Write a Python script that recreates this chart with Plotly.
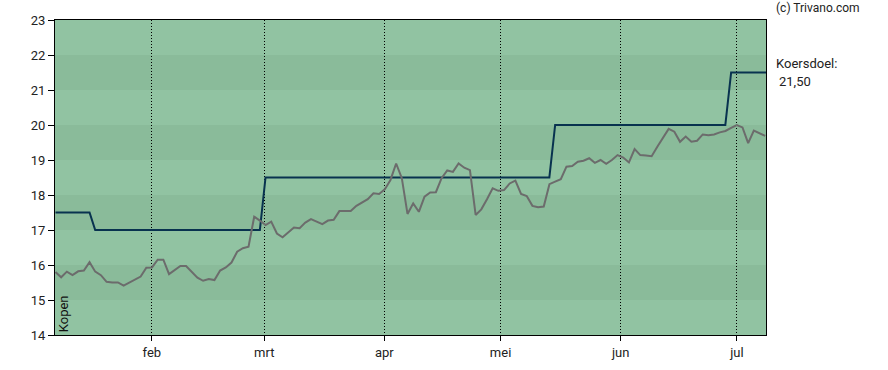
import plotly.graph_objects as go
import pandas as pd

# ---- data ----
price_start = "2024-01-07 03:00"
price_end = "2024-07-08 07:00"
price = [
    15.80, 15.65, 15.81, 15.71, 15.82, 15.84, 16.08, 15.81, 15.71, 15.52,
    15.50, 15.50, 15.41, 15.50, 15.57, 15.67, 15.92, 15.93, 16.15, 16.15,
    15.74, 15.86, 15.97, 15.97, 15.81, 15.64, 15.55, 15.60, 15.57, 15.84,
    15.93, 16.07, 16.38, 16.48, 16.52,
    17.38, 17.27, 17.14, 17.24, 16.90, 16.79, 16.92, 17.07, 17.05, 17.21,
    17.31, 17.24, 17.17, 17.27, 17.29, 17.54, 17.55, 17.54, 17.69, 17.78,
    17.88, 18.05, 18.03, 18.16, 18.43, 18.90, 18.48, 17.46, 17.76, 17.52,
    17.95, 18.07, 18.08,
    18.48, 18.70, 18.66, 18.90, 18.78, 18.71, 17.43, 17.59, 17.88, 18.19,
    18.12, 18.14, 18.33, 18.41, 18.03, 17.97, 17.69, 17.65, 17.67, 18.31,
    18.38, 18.45, 18.81, 18.83, 18.95, 18.98, 19.05, 18.92, 19.00,
    18.89, 19.00, 19.14, 19.07, 18.93, 19.31, 19.14, 19.13, 19.11, 19.38,
    19.64, 19.89, 19.81, 19.52, 19.67, 19.52, 19.55, 19.73, 19.71, 19.73,
    19.79, 19.83, 19.92, 20.00, 19.93, 19.48, 19.84, 19.76, 19.69,
]
price_dates = pd.date_range(price_start, price_end, periods=len(price))

target_dates = [
    "2024-01-07 03:00", "2024-01-15 22:00", "2024-01-17 09:00",
    "2024-02-28 21:00", "2024-03-01 08:00", "2024-05-13 14:00",
    "2024-05-15 02:00", "2024-06-28 00:00", "2024-06-29 12:00",
    "2024-07-08 12:00",
]
target_values = [17.5, 17.5, 17.0, 17.0, 18.5, 18.5, 20.0, 20.0, 21.5, 21.5]

month_ticks = ["2024-02-01", "2024-03-01", "2024-04-01", "2024-05-01",
               "2024-06-01", "2024-07-01"]
month_labels = ["feb", "mrt", "apr", "mei", "jun", "jul"]
y_ticks = [14, 15, 16, 17, 18, 19, 20, 21, 22, 23]
dark_bands = [(15, 16), (17, 18), (19, 20), (21, 22)]
target_label = "21,50"

LIGHT = "#91c3a2"
DARK = "#8abb9a"
FONT = "Roboto"

fig = go.Figure()
fig.add_trace(go.Scatter(x=target_dates, y=target_values, mode="lines",
                         line=dict(color="#08324f", width=2),
                         hoverinfo="skip", showlegend=False))
fig.add_trace(go.Scatter(x=price_dates, y=price, mode="lines",
                         line=dict(color="#6c6c6c", width=2),
                         hoverinfo="skip", showlegend=False))

shapes = []
for y0, y1 in dark_bands:
    shapes.append(dict(type="rect", xref="paper", yref="y", x0=0, x1=1,
                       y0=y0, y1=y1, fillcolor=DARK, line=dict(width=0),
                       layer="below"))

fig.update_layout(
    width=888, height=370,
    margin=dict(l=55, r=122, t=20, b=35),
    paper_bgcolor="white",
    plot_bgcolor=LIGHT,
    hovermode=False,
    shapes=shapes,
    font=dict(family=FONT, size=13, color="#222222"),
    xaxis=dict(
        range=["2024-01-07 00:00", "2024-07-08 12:00"],
        tickmode="array", tickvals=month_ticks, ticktext=month_labels,
        ticks="outside", ticklen=5, tickcolor="black",
        showgrid=True, gridcolor="black", gridwidth=1, griddash="1px,2px",
        showline=True, linecolor="black", linewidth=1, mirror=True,
        zeroline=False, automargin=False,
        tickfont=dict(size=13, color="#222222"),
    ),
    yaxis=dict(
        range=[14, 23], tickmode="array", tickvals=y_ticks,
        ticks="outside", ticklen=6, tickcolor="black",
        showgrid=False, zeroline=False, automargin=False,
        showline=True, linecolor="black", linewidth=1, mirror=True,
        tickfont=dict(size=13, color="#222222"),
    ),
    annotations=[
        dict(text="(c) Trivano.com", xref="paper", yref="paper",
             x=1.0115, y=1.038, xanchor="left", yanchor="middle",
             showarrow=False, font=dict(size=12, color="#222222")),
        dict(text="Koersdoel:", xref="paper", yref="y",
             x=1.0115, y=21.77, xanchor="left", yanchor="middle",
             showarrow=False, font=dict(size=13, color="#222222")),
        dict(text=target_label, xref="paper", yref="y",
             x=1.0155, y=21.23, xanchor="left", yanchor="middle",
             showarrow=False, font=dict(size=13, color="#222222")),
        dict(text="Kopen", xref="paper", yref="paper",
             x=0.0122, y=0.068, xanchor="center", yanchor="middle",
             textangle=-90, showarrow=False,
             font=dict(size=13, color="#111111")),
    ],
)

# remove the page's default 8px body margin so the figure fills the window
fig.write_html(
    "out.html",
    config={"displayModeBar": False},
    post_script="document.body.style.margin='0';document.body.style.overflow='hidden';",
)
